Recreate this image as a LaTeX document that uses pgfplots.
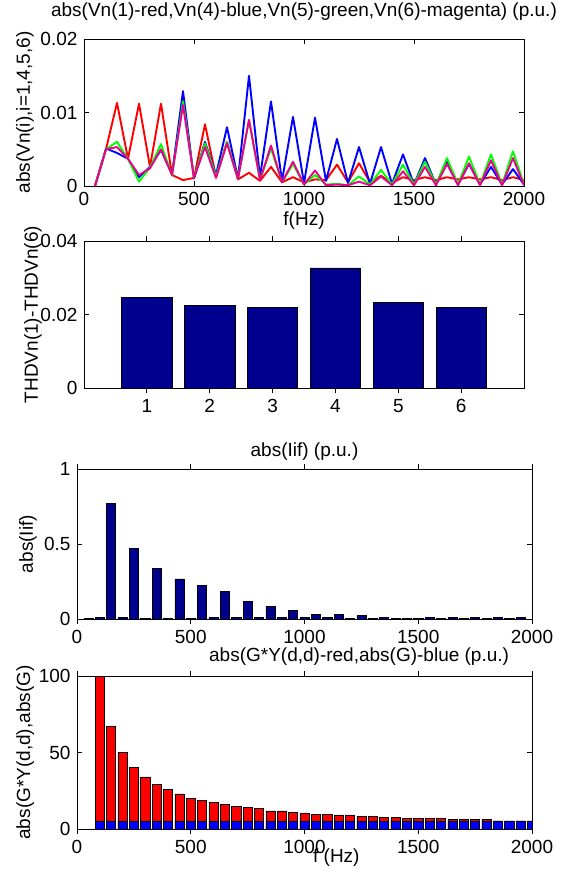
\documentclass[border=0pt]{standalone}
\usepackage{fontspec}
\setmainfont{Liberation Sans}
\usepackage{pgfplots}
\pgfplotsset{compat=1.18}
\definecolor{mlnavy}{rgb}{0,0,0.5625}

\pgfplotsset{
  mlaxis/.style={
    scale only axis, anchor=north west,
    axis line style={line width=0.8pt},
    every tick/.style={black, line width=0.8pt},
    major tick length=5pt,
    scaled x ticks=false, scaled y ticks=false,
    /pgf/number format/assume math mode=true,
    ylabel style={at={(axis description cs:#1,0.5)}, anchor=center},
  },
  mlbar/.style={fill=#1, draw=black, line width=0.5pt},
}

\begin{document}
\fontsize{19}{22}\selectfont
\begin{tikzpicture}
\useasboundingbox (0pt,0pt) rectangle (566pt,-871pt);

% top: harmonic voltages
\begin{axis}[mlaxis=-0.134, at={(84pt,-39pt)}, width=440pt, height=147pt,
  xmin=0, xmax=2000, ymin=0, ymax=0.02,
  xtick={0,500,1000,1500,2000}, xticklabels={0,500,1000,1500,2000},
  ytick={0,0.01,0.02}, yticklabels={0,0.01,0.02},
  title={abs(Vn(1)-red,Vn(4)-blue,Vn(5)-green,Vn(6)-magenta) (p.u.)},
  title style={at={(0.5,1)}, anchor=center, yshift=21pt},
  xlabel={f(Hz)}, xlabel style={at={(0.5,0)}, anchor=center, yshift=-35pt},
  ylabel={abs(Vn(i),i=1,4,5,6)},
  every axis plot/.append style={line width=1.9pt, line join=round}]
\addplot[red] coordinates {
 (50,0)(100,0.005)(150,0.0113)(200,0.0037)(250,0.0112)(300,0.0026)(350,0.0112)(400,0.0015)
 (450,0.0008)(500,0.0011)(550,0.0084)(600,0.0012)(650,0.006)(700,0.0009)(750,0.0018)(800,0.0007)
 (850,0.0026)(900,0.0005)(950,0.0012)(1000,0.0005)(1050,0.0009)(1100,0.0008)(1150,0.0029)(1200,0.0005)
 (1250,0.0031)(1300,0.0005)(1350,0.0014)(1400,0.0004)(1450,0.0012)(1500,0.0008)(1550,0.0012)(1600,0.0008)
 (1650,0.0012)(1700,0.0009)(1750,0.0012)(1800,0.0009)(1850,0.0012)(1900,0.0008)(1950,0.0012)(2000,0.0008)};
\addplot[blue] coordinates {
 (50,0)(100,0.0051)(150,0.0045)(200,0.0037)(250,0.0012)(300,0.0026)(350,0.0049)(400,0.0016)
 (450,0.0129)(500,0.001)(550,0.006)(600,0.0015)(650,0.008)(700,0.001)(750,0.015)(800,0.0012)
 (850,0.0115)(900,0.0007)(950,0.0094)(1000,0.0004)(1050,0.0093)(1100,0.0007)(1150,0.0064)(1200,0.0004)
 (1250,0.0053)(1300,0.0003)(1350,0.0053)(1400,0.0003)(1450,0.0043)(1500,0.0002)(1550,0.0038)(1600,0.0002)
 (1650,0.0033)(1700,0.0002)(1750,0.003)(1800,0.0002)(1850,0.0026)(1900,0.0002)(1950,0.0023)(2000,0.0002)};
\addplot[green] coordinates {
 (50,0)(100,0.005)(150,0.006)(200,0.0037)(250,0.0006)(300,0.0025)(350,0.0057)(400,0.0014)
 (450,0.0115)(500,0.0011)(550,0.0058)(600,0.0013)(650,0.006)(700,0.001)(750,0.009)(800,0.0009)
 (850,0.0051)(900,0.0005)(950,0.003)(1000,0.0002)(1050,0.0015)(1100,0.0002)(1150,0.0003)(1200,0.0001)
 (1250,0.0013)(1300,0.0002)(1350,0.0022)(1400,0.0002)(1450,0.0029)(1500,0.0002)(1550,0.0033)(1600,0.0002)
 (1650,0.0038)(1700,0.0002)(1750,0.004)(1800,0.0002)(1850,0.0043)(1900,0.0002)(1950,0.0047)(2000,0.0002)};
\addplot[magenta] coordinates {
 (50,0)(100,0.005)(150,0.0053)(200,0.0037)(250,0.0015)(300,0.0024)(350,0.005)(400,0.0015)
 (450,0.011)(500,0.0011)(550,0.0053)(600,0.0011)(650,0.0058)(700,0.001)(750,0.009)(800,0.0008)
 (850,0.0055)(900,0.0005)(950,0.0033)(1000,0.0002)(1050,0.0021)(1100,0.0001)(1150,0.0002)(1200,0.0001)
 (1250,0.0006)(1300,0.0001)(1350,0.0013)(1400,0.0001)(1450,0.002)(1500,0.0001)(1550,0.0026)(1600,0.0001)
 (1650,0.003)(1700,0.0001)(1750,0.0031)(1800,0.0001)(1850,0.0035)(1900,0.0001)(1950,0.0038)(2000,0.0001)};
\end{axis}

% THD differences
\begin{axis}[mlaxis=-0.116, at={(84pt,-241pt)}, width=440pt, height=147pt,
  ybar, bar width=0.8, bar shift=0pt,
  xmin=0, xmax=7, ymin=0, ymax=0.04,
  xtick={1,2,3,4,5,6}, xticklabels={1,2,3,4,5,6},
  ytick={0,0.02,0.04}, yticklabels={0,0.02,0.04},
  ylabel={THDVn(1)-THDVn(6)}]
\addplot[mlbar=mlnavy] coordinates {(1,0.0246)(2,0.0224)(3,0.0219)(4,0.0327)(5,0.0233)(6,0.0219)};
\end{axis}

% injected current
\begin{axis}[mlaxis=-0.108, at={(77pt,-469pt)}, width=455pt, height=150pt,
  ybar, bar width=40, bar shift=0pt,
  xmin=0, xmax=2000, ymin=0, ymax=1,
  xtick={0,500,1000,1500,2000}, xticklabels={0,500,1000,1500,2000},
  ytick={0,0.5,1}, yticklabels={0,0.5,1},
  title={abs(Iif) (p.u.)},
  title style={at={(0.5,1)}, anchor=center, yshift=11pt},
  ylabel={abs(Iif)}]
\addplot[mlbar=mlnavy] coordinates {
 (50,0.002)(100,0.009)(150,0.773)(200,0.009)(250,0.471)(300,0.005)(350,0.338)(400,0.003)
 (450,0.267)(500,0.003)(550,0.224)(600,0.009)(650,0.182)(700,0.009)(750,0.12)(800,0.009)
 (850,0.084)(900,0.009)(950,0.056)(1000,0.009)(1050,0.029)(1100,0.009)(1150,0.029)(1200,0.003)
 (1250,0.022)(1300,0.002)(1350,0.009)(1400,0.002)(1450,0.002)(1500,0.002)(1550,0.009)(1600,0.002)
 (1650,0.009)(1700,0.002)(1750,0.009)(1800,0.002)(1850,0.009)(1900,0.002)(1950,0.009)};
\end{axis}

% admittance gains
\begin{axis}[mlaxis=-0.114, at={(77pt,-676pt)}, width=455pt, height=153pt,
  ybar, bar width=40, bar shift=0pt,
  xmin=0, xmax=2000, ymin=0, ymax=100,
  xtick={0,500,1000,1500,2000}, xticklabels={0,500,1000,1500,2000},
  ytick={0,50,100}, yticklabels={0,50,100},
  title={abs(G*Y(d,d)-red,abs(G)-blue (p.u.)},
  title style={at={(0.62,1)}, anchor=center, yshift=13pt},
  xlabel={f (Hz)}, xlabel style={at={(0.57,0)}, anchor=center, yshift=-29pt},
  ylabel={abs(G*Y(d,d),abs(G)}]
\addplot[mlbar=red] coordinates {
 (100,100)(150,67)(200,50.1)(250,40.3)(300,34)(350,29.2)(400,25.7)(450,22.9)
 (500,20)(550,18.7)(600,17.4)(650,16.1)(700,14.8)(750,14.2)(800,13.3)(850,11.8)
 (900,11.8)(950,11.1)(1000,10.5)(1050,9.8)(1100,9.8)(1150,9.2)(1200,9.2)(1250,8.3)
 (1300,8.3)(1350,7.6)(1400,7.6)(1450,7)(1500,7)(1550,7)(1600,7)(1650,6.3)
 (1700,6.3)(1750,6.3)(1800,6.3)(1850,5.3)(1900,5.3)(1950,5.3)(2000,5.3)};
\addplot[mlbar=blue] coordinates {
 (100,5.3)(150,5.3)(200,5.3)(250,5.3)(300,5.3)(350,5.3)(400,5.3)(450,5.3)
 (500,5.3)(550,5.3)(600,5.3)(650,5.3)(700,5.3)(750,5.3)(800,5.3)(850,5.3)
 (900,5.3)(950,5.3)(1000,5.3)(1050,5.3)(1100,5.3)(1150,5.3)(1200,5.3)(1250,5.3)
 (1300,5.3)(1350,5.3)(1400,5.3)(1450,5.3)(1500,5.3)(1550,5.3)(1600,5.3)(1650,5.3)
 (1700,5.3)(1750,5.3)(1800,5.3)(1850,5.3)(1900,5.3)(1950,5.3)(2000,5.3)};
\end{axis}
\end{tikzpicture}
\end{document}
